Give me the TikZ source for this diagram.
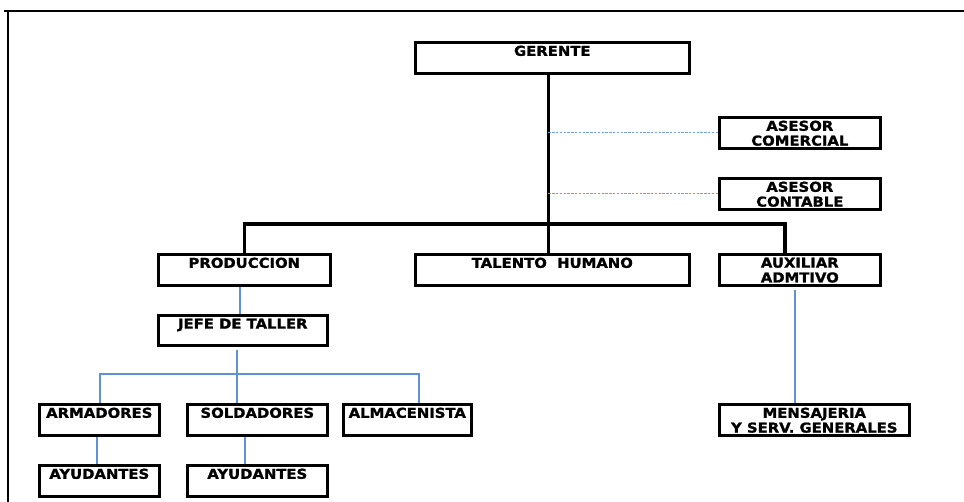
\documentclass[tikz,border=0pt]{standalone}
\usepackage{fontspec}
\setmainfont{DejaVu Sans}[FakeStretch=1.09, BoldFeatures={FakeBold=1.4}]
\usetikzlibrary{calc}
\definecolor{lblue}{RGB}{95,145,212}
\definecolor{dblue}{RGB}{120,158,215}
\newcommand\bxt[3]{\parbox[c][#2pt][t]{#1pt}{\centering\vspace*{3.4pt}#3\par}}
\tikzset{
  bx/.style={draw=black, line width=2.6pt, inner sep=0pt, anchor=north west,
    font=\bfseries\fontsize{13.6}{14.8}\selectfont},
  trunk/.style={draw=black, line width=3.6pt},
  bline/.style={draw=lblue, line width=1.8pt},
  dline/.style={draw=dblue, line width=1.4pt, dash pattern=on 2.4pt off 1.4pt},
  frame/.style={draw=black, line width=2.6pt}
}
\begin{document}
\begin{tikzpicture}[x=1pt,y=-1pt]
\useasboundingbox (0,0) rectangle (964,502);
% frame
\draw[frame] (4,11) -- (964,11);
\draw[frame, line width=2pt] (8,11) -- (8,502);
% boxes
\node[bx] (ger) at (414,41) {\bxt{274}{31}{GERENTE}};
\node[bx] (asc) at (718,116) {\bxt{161}{31}{ASESOR\\COMERCIAL}};
\node[bx] (asn) at (718,177) {\bxt{161}{31}{ASESOR\\CONTABLE}};
\node[bx] (prod) at (157,253) {\bxt{172}{31}{PRODUCCION}};
\node[bx] (tal) at (414,253) {\bxt{274}{31}{TALENTO\ \ HUMANO}};
\node[bx] (aux) at (718,253) {\bxt{161}{31}{AUXILIAR\\ADMTIVO}};
\node[bx] (jefe) at (157,314) {\bxt{169}{30}{JEFE DE TALLER}};
\node[bx] (arm) at (38,403) {\bxt{120}{31}{ARMADORES}};
\node[bx] (sold) at (186,403) {\bxt{140}{31}{SOLDADORES}};
\node[bx] (alm) at (342,403) {\bxt{128}{31}{ALMACENISTA}};
\node[bx] (mens) at (718,403) {\bxt{190}{31}{MENSAJERIA\\Y SERV. GENERALES}};
\node[bx] (ay1) at (38,464) {\bxt{120}{31}{AYUDANTES}};
\node[bx] (ay2) at (186,464) {\bxt{140}{31}{AYUDANTES}};
% coordinates
\coordinate (gt) at ($(ger.south)+(-4,0)$);
\coordinate (hb) at (0,224);
\coordinate (px) at ($(prod.north)+(0,0)$);
\coordinate (ax) at ($(aux.north)+(-15,0)$);
% thick trunk
\draw[trunk] (gt) -- (gt |- tal.north);
\draw[trunk] (px) -- (px |- hb) -- (ax |- hb) -- (ax);
% dashed staff lines
\draw[dline] (gt |- asc.west) -- (asc.west);
\draw[dline] (gt |- asn.west) -- (asn.west);
% blue lines
\coordinate (pj) at ($(prod.south)+(-4,0)$);
\draw[bline] (pj) -- (pj |- jefe.north);
\coordinate (js) at ($(jefe.south)+(-5.5,3)$);
\coordinate (hs) at (0,374);
\coordinate (ar) at ($(arm.north)+(1,0)$);
\coordinate (al) at ($(alm.north)+(12,0)$);
\draw[bline] (js) -- (js |- sold.north);
\draw[bline] (ar) -- (ar |- hs) -- (al |- hs) -- (al);
\coordinate (aa) at ($(arm.south)+(-2,0)$);
\draw[bline] (aa) -- (aa |- ay1.north);
\coordinate (sa) at ($(sold.south)+(-12,0)$);
\draw[bline] (sa) -- (sa |- ay2.north);
\coordinate (am) at ($(aux.south)+(-5,3)$);
\draw[bline] (am) -- (am |- mens.north);
\end{tikzpicture}
\end{document}
